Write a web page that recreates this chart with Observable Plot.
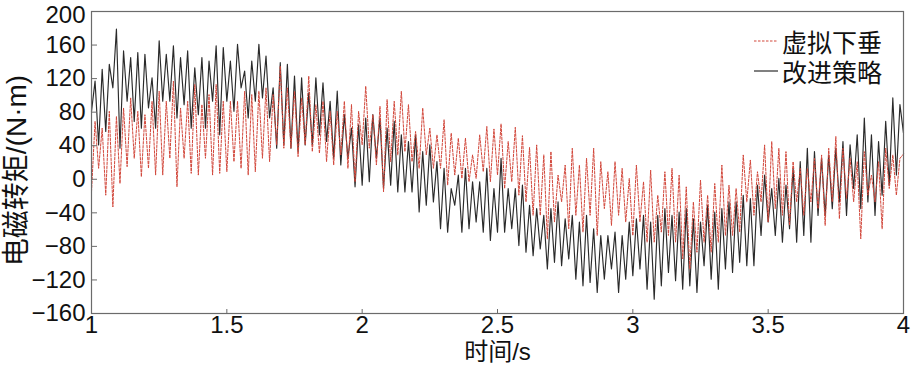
<!DOCTYPE html>
<html>
<head>
<meta charset="utf-8">
<script src="https://cdn.jsdelivr.net/npm/d3@7"></script>
<script src="https://cdn.jsdelivr.net/npm/@observablehq/plot@0.6"></script>
<style>
  body { margin: 0; background: #fff; }
  #wrap { position: relative; width: 912px; height: 374px; }
  #legend { position: absolute; left: 754px; top: 26px; font-family: "Liberation Sans", "Noto Sans CJK SC", sans-serif; font-size: 25px; color: #111; }
  .row { display: flex; align-items: center; height: 30px; }
  .row svg { margin-right: 4px; }
</style>
</head>
<body>
<div id="wrap"><div id="legend"></div></div>
<script>
// ---- data ----
const tStart = 1;
const tEnd = 4;
const xTicks = [1, 1.5, 2, 2.5, 3, 3.5, 4];
const yTicks = [-160, -120, -80, -40, 0, 40, 80, 120, 160, 200];
const seriesNames = ["虚拟下垂", "改进策略"];
const xLabel = "时间/s";
const yLabel = "电磁转矩/(N·m)";

// 虚拟下垂 (red dashed), peaks and troughs, evenly spaced in time
const droop = [
  -15,69,13,61,-19,81,-33,75,-5,85,15,97,25,81,3,77,13,93,5,105,5,93,25,117,-9,85,25,93,7,113,5,89,25,101,5,113,7,93,
  9,93,21,93,13,105,5,101,9,105,25,109,21,101,41,135,37,109,37,105,27,97,41,123,33,89,31,93,21,81,17,81,29,93,13,89,-3,81,
  41,111,37,77,17,87,-15,95,21,93,29,105,33,89,21,57,13,85,29,61,13,53,13,71,-7,55,5,49,1,49,-3,29,1,53,9,63,-3,60,
  5,66,-11,45,-3,62,-19,52,-27,38,-43,41,-43,29,-71,33,-51,5,-27,17,-59,37,-43,17,-63,25,-43,37,-67,21,-35,9,-55,21,-43,13,-51,1,
  -67,17,-51,-3,-75,11,-75,-19,-63,9,-67,13,-75,5,-95,-9,-107,-27,-87,-1,-75,-19,-87,-5,-75,17,-67,-7,-67,-11,-63,29,-27,23,-43,9,-27,41,
  -51,45,-35,37,-43,33,-55,21,-27,13,-43,13,-27,25,-35,29,-55,37,-27,51,-47,37,-23,25,-27,21,-71,33,-19,5,-27,21,-59,37,-11,29,-19,25,30
];

// 改进策略 (black solid)
const improved = [
  81,117,41,131,57,137,109,179,37,153,93,145,69,151,61,149,85,121,61,165,93,149,93,159,73,145,89,153,61,133,77,145,61,141,93,159,53,157,
  93,141,81,161,109,129,73,141,93,161,97,147,73,109,37,139,41,137,37,123,33,121,41,103,41,121,53,115,45,93,25,105,17,77,25,61,-9,65,
  -7,73,-3,77,25,73,-11,61,-7,69,-15,53,-15,45,-15,53,-39,33,-31,41,-27,21,-59,13,-63,-11,-31,5,-63,13,-59,-3,-51,-3,-63,13,-73,-11,
  -63,25,-63,-11,-59,-11,-79,-7,-87,-31,-91,-35,-83,-43,-107,-35,-99,-27,-103,-47,-95,-43,-119,-51,-127,-43,-123,-59,-135,-67,-119,-67,-107,-63,-135,-67,-119,-51,
  -115,-47,-107,-43,-131,-51,-143,-43,-127,-35,-111,-43,-121,-39,-131,-35,-127,-47,-135,-51,-103,-31,-119,-39,-131,-35,-107,-27,-111,-27,-99,-19,-103,-23,-103,-7,-67,5,
  -51,-11,-67,1,-75,-7,-59,13,-75,21,-67,37,-75,33,-43,25,-43,29,-35,37,-27,45,-43,41,-11,53,-35,73,-27,53,-43,45,-19,69,-7,97,5,89,55
];

const colors = ["#d2473b", "#2a2a2a"];
const dashes = ["2.5,1.5", null];

function toRows(values) {
  return values.map((v, i) => ({t: tStart + (tEnd - tStart) * i / (values.length - 1), v}));
}
const fmt = d => (d < 0 ? "\u2212" + Math.abs(d) : String(d));
const font = '"Liberation Sans", "Noto Sans CJK SC", sans-serif';
const axisColor = "#6b6b6b";
const yTop = yTicks[yTicks.length - 1];

const chart = Plot.plot({
  width: 912,
  height: 374,
  marginLeft: 91,
  marginRight: 9,
  marginTop: 11,
  marginBottom: 61,
  style: {fontFamily: font, fontSize: "24px", color: "#111", background: "#fff"},
  x: {domain: [tStart, tEnd]},
  y: {domain: [yTicks[0], yTop]},
  marks: [
    Plot.line(toRows(improved), {x: "t", y: "v", stroke: colors[1], strokeWidth: 1.15}),
    Plot.line(toRows(droop), {x: "t", y: "v", stroke: colors[0], strokeWidth: 1, strokeDasharray: dashes[0]}),
    Plot.frame({stroke: axisColor, strokeWidth: 1.2}),
    // inward ticks
    Plot.axisY({ticks: yTicks, anchor: "right", frameAnchor: "left", tickSize: 5, tickFormat: () => "", label: null, stroke: axisColor}),
    Plot.axisX({ticks: xTicks, anchor: "top", frameAnchor: "bottom", tickSize: 5, tickFormat: () => "", label: null, stroke: axisColor}),
    // tick labels (the top one nudged down so it stays inside the picture)
    Plot.axisY({ticks: yTicks.filter(d => d !== yTop), anchor: "left", tickSize: 0, tickPadding: 6, tickFormat: fmt, label: null}),
    Plot.axisY({ticks: [yTop], anchor: "left", tickSize: 0, tickPadding: 6, tickFormat: fmt, label: null, dy: 4}),
    Plot.axisX({ticks: xTicks, anchor: "bottom", tickSize: 0, tickPadding: 2, tickFormat: fmt, label: null}),
    // axis titles
    Plot.text([yLabel], {text: d => d, frameAnchor: "left", textAnchor: "middle", rotate: -90, dx: -74, dy: 8, fontSize: 28}),
    Plot.text([xLabel], {text: d => d, frameAnchor: "bottom", dy: 46, fontSize: 24})
  ]
});

const wrap = document.getElementById("wrap");
wrap.insertBefore(chart, wrap.firstChild);

const legend = document.getElementById("legend");
seriesNames.forEach((name, i) => {
  const row = document.createElement("div");
  row.className = "row";
  row.innerHTML = `<svg width="24" height="10"><line x1="0" y1="5" x2="24" y2="5" stroke="${colors[i]}" stroke-width="1.2" ${dashes[i] ? `stroke-dasharray="${dashes[i]}"` : ""}/></svg><span>${name}</span>`;
  legend.appendChild(row);
});
</script>
</body>
</html>
